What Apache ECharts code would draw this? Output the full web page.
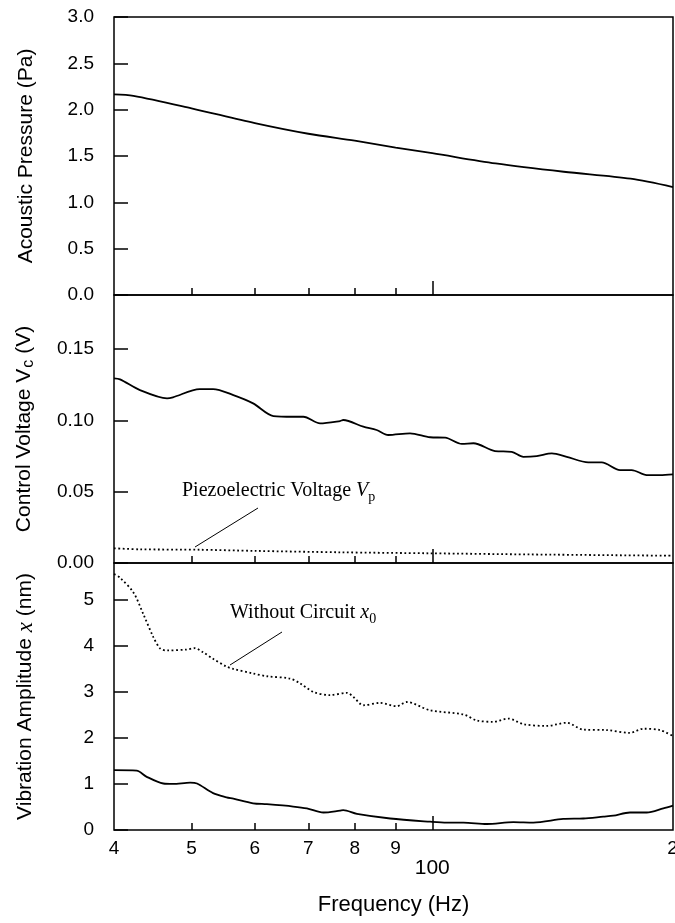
<!DOCTYPE html>
<html>
<head>
<meta charset="utf-8">
<script src="https://cdn.jsdelivr.net/npm/echarts@6/dist/echarts.min.js"></script>
<style>
html, body { margin: 0; padding: 0; background: #fff; }
#chart { width: 675px; height: 923px; }
</style>
</head>
<body>
<div id="chart"></div>
<script>
// frequency axis (Hz, log scale)
var minorTicks = [50, 60, 70, 80, 90];
var majorTicks = [100];
var labelTicks = [40, 50, 60, 70, 80, 90, 200];

// acoustic pressure (Pa)
var pressureFreq = [40, 42.3, 50, 60, 70, 80, 90, 100, 120, 146, 177, 200];
var pressureVals = [2.165, 2.15, 2.015, 1.855, 1.74, 1.665, 1.59, 1.53, 1.42, 1.33, 1.255, 1.165];

// control voltage Vc (V)
var vcFreq = [40, 40.7, 43.1, 46.6, 47.4, 51.2, 53.2, 56.4, 59.7, 63.3, 67.0, 69.0, 72.4, 76.7, 77.4,
    82.0, 85.2, 88.1, 93.8, 99.4, 103.8, 108.9, 112.6, 119.8, 125.7, 130.0, 135.1, 141.1, 147.3,
    156.7, 162.9, 171.7, 177.6, 185.4, 192.7, 200];
var vcVals = [0.1295, 0.1288, 0.1213, 0.1155, 0.1162, 0.122, 0.122, 0.1178, 0.112, 0.1031, 0.1026, 0.1026, 0.098, 0.0996, 0.1003,
    0.0956, 0.0933, 0.0898, 0.091, 0.0882, 0.0879, 0.0835, 0.084, 0.0785, 0.078, 0.0745, 0.075, 0.0769, 0.0745,
    0.0706, 0.0706, 0.0652, 0.0652, 0.0617, 0.0617, 0.0622];

// piezoelectric voltage Vp (V)
var vpFreq = [40, 43.1, 51.2, 60, 76.7, 99.4, 132.5, 200];
var vpVals = [0.0103, 0.0096, 0.0093, 0.0085, 0.0075, 0.0068, 0.006, 0.0051];

// vibration amplitude without circuit x0 (nm)
var x0Freq = [40, 40.7, 42.3, 43.5, 44.8, 45.7, 46.6, 49.3, 50.5, 51.7, 53.2, 55.3, 56.4, 59.7, 62.1,
    66.4, 68.3, 71.0, 74.5, 78.2, 79.7, 82.0, 86.0, 90.3, 92.9, 99.4, 109.4, 113.7, 119.2, 124.5,
    130.0, 139.0, 147.3, 154.5, 165.2, 176.7, 183.6, 192.7, 200];
var x0Vals = [5.56, 5.48, 5.16, 4.70, 4.19, 3.94, 3.90, 3.92, 3.95, 3.86, 3.72, 3.55, 3.50, 3.40, 3.34,
    3.29, 3.19, 3.00, 2.93, 2.98, 2.89, 2.71, 2.76, 2.69, 2.78, 2.60, 2.51, 2.38, 2.35, 2.42,
    2.30, 2.26, 2.33, 2.18, 2.17, 2.11, 2.20, 2.17, 2.04];

// vibration amplitude with circuit x (nm)
var xFreq = [40, 42.7, 43.9, 46.1, 47.4, 49.8, 50.8, 53.2, 55.3, 56.4, 59.7, 62.1, 67.0, 69.7, 73.1,
    76.7, 77.4, 80.5, 88.6, 99.4, 104.3, 109.4, 117.0, 126.3, 133.8, 145.8, 154.5, 163.6, 168.4,
    176.7, 185.4, 194.5, 200];
var xVals = [1.30, 1.29, 1.16, 1.01, 1.00, 1.03, 1.01, 0.80, 0.71, 0.68, 0.58, 0.56, 0.51, 0.47, 0.38,
    0.42, 0.43, 0.35, 0.25, 0.18, 0.16, 0.16, 0.13, 0.17, 0.16, 0.24, 0.25, 0.29, 0.31,
    0.38, 0.38, 0.47, 0.53];

var SANS = 'Liberation Sans, Arial, sans-serif';
var SERIF = 'Liberation Serif, Times New Roman, serif';

function pairs(fs, vs) {
    return fs.map(function (f, i) { return [f, vs[i]]; });
}

var grids = [
    { left: 114, right: 2, top: 17, height: 278 },
    { left: 114, right: 2, top: 295, height: 268 },
    { left: 114, right: 2, top: 563, height: 267 }
];
grids.forEach(function (g) {
    g.show = true;
    g.borderColor = '#000';
    g.borderWidth = 1.5;
    g.backgroundColor = 'transparent';
    g.containLabel = false;
    g.outerBoundsMode = 'none';
});

function xAxes(gi, withLabels) {
    var minor = {
        type: 'log', logBase: 10, min: 40, max: 200, gridIndex: gi, position: 'bottom',
        axisLine: { show: false },
        splitLine: { show: false },
        axisTick: { inside: true, length: 7, customValues: minorTicks, lineStyle: { color: '#000', width: 1.5 } },
        axisLabel: {
            show: withLabels, customValues: labelTicks, margin: 9,
            fontSize: 19, fontFamily: SANS, color: '#000',
            formatter: function (v) {
                return Math.round(v) === 200 ? '{r|200}' : String(Math.round(v / 10));
            },
            rich: { r: { fontSize: 19, fontFamily: SANS, color: '#000', padding: [0, 0, 0, 20] } }
        }
    };
    var major = {
        type: 'log', logBase: 10, min: 40, max: 200, gridIndex: gi, position: 'bottom', offset: 0,
        axisLine: { show: false },
        splitLine: { show: false },
        axisTick: { inside: true, length: 14, customValues: majorTicks, lineStyle: { color: '#000', width: 1.5 } },
        axisLabel: {
            show: withLabels, customValues: majorTicks, margin: 28,
            fontSize: 21, fontFamily: SANS, color: '#000'
        }
    };
    if (withLabels) {
        major.name = 'Frequency (Hz)';
        major.nameLocation = 'middle';
        major.nameGap = 64;
        major.nameTextStyle = { fontSize: 22, fontFamily: SANS, color: '#000' };
    }
    return [minor, major];
}

function yAxis(gi, max, step, digits, hideMax, name, rich) {
    return {
        type: 'value', gridIndex: gi, min: 0, max: max, interval: step,
        axisLine: { show: false },
        splitLine: { show: false },
        axisTick: { inside: true, length: 14, lineStyle: { color: '#000', width: 1.5 } },
        axisLabel: {
            margin: 20, fontSize: 19, fontFamily: SANS, color: '#000',
            showMaxLabel: !hideMax,
            formatter: function (v) { return v.toFixed(digits); }
        },
        name: name, nameLocation: 'middle', nameGap: 77,
        nameTextStyle: { fontSize: 21, fontFamily: SANS, color: '#000', rich: rich }
    };
}

var lineSolid = { color: '#000', width: 1.8 };
var lineDot = { color: '#000', width: 1.8, type: [1.8, 2.6] };

var option = {
    animation: false,
    backgroundColor: '#fff',
    grid: grids,
    xAxis: [].concat(xAxes(0, false), xAxes(1, false), xAxes(2, true)),
    yAxis: [
        yAxis(0, 3, 0.5, 1, false, 'Acoustic Pressure (Pa)'),
        yAxis(1, 0.188, 0.05, 2, true, '{n|Control Voltage V}{s|c}{n| (V)}', {
            n: { fontSize: 21, fontFamily: SANS, color: '#000' },
            s: { fontSize: 16, fontFamily: SANS, color: '#000', padding: [10, 0, 0, 1] }
        }),
        yAxis(2, 5.8, 1, 0, true, '{n|Vibration Amplitude }{i|x}{n| (nm)}', {
            n: { fontSize: 21, fontFamily: SANS, color: '#000' },
            i: { fontSize: 23, fontFamily: SERIF, fontStyle: 'italic', color: '#000' }
        })
    ],
    series: [
        { type: 'line', xAxisIndex: 0, yAxisIndex: 0, data: pairs(pressureFreq, pressureVals), smooth: 0.3, showSymbol: false, lineStyle: lineSolid },
        { type: 'line', xAxisIndex: 2, yAxisIndex: 1, data: pairs(vcFreq, vcVals), smooth: 0.3, showSymbol: false, lineStyle: lineSolid },
        { type: 'line', xAxisIndex: 2, yAxisIndex: 1, data: pairs(vpFreq, vpVals), smooth: 0.3, showSymbol: false, lineStyle: lineDot },
        { type: 'line', xAxisIndex: 4, yAxisIndex: 2, data: pairs(x0Freq, x0Vals), smooth: 0.3, showSymbol: false, lineStyle: lineDot },
        { type: 'line', xAxisIndex: 4, yAxisIndex: 2, data: pairs(xFreq, xVals), smooth: 0.3, showSymbol: false, lineStyle: lineSolid }
    ],
    graphic: [
        {
            type: 'text', left: 182, top: 481,
            style: {
                text: '{t|Piezoelectric Voltage }{i|V}{s|p}',
                rich: {
                    t: { fontSize: 20, fontFamily: SERIF, fill: '#000' },
                    i: { fontSize: 20, fontFamily: SERIF, fontStyle: 'italic', fill: '#000' },
                    s: { fontSize: 14, fontFamily: SERIF, fill: '#000', padding: [12, 0, 0, 0] }
                }
            }
        },
        { type: 'line', shape: { x1: 195, y1: 547, x2: 258, y2: 508 }, style: { stroke: '#000', lineWidth: 1 } },
        {
            type: 'text', left: 230, top: 603,
            style: {
                text: '{t|Without Circuit }{i|x}{s|0}',
                rich: {
                    t: { fontSize: 20, fontFamily: SERIF, fill: '#000' },
                    i: { fontSize: 20, fontFamily: SERIF, fontStyle: 'italic', fill: '#000' },
                    s: { fontSize: 14, fontFamily: SERIF, fill: '#000', padding: [12, 0, 0, 0] }
                }
            }
        },
        { type: 'line', shape: { x1: 230, y1: 665, x2: 282, y2: 632 }, style: { stroke: '#000', lineWidth: 1 } }
    ]
};

var chart = echarts.init(document.getElementById('chart'));
chart.setOption(option);
</script>
</body>
</html>
